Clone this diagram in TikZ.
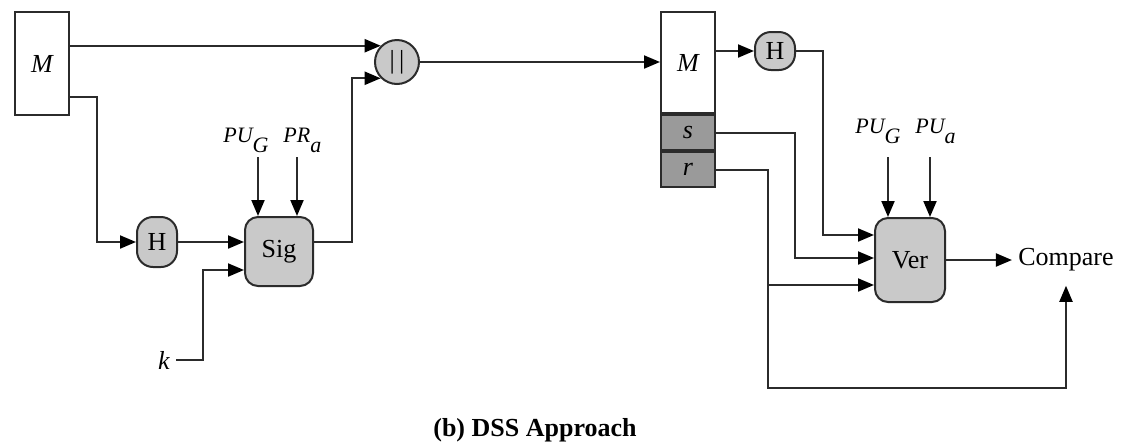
\documentclass[tikz,border=0pt]{standalone}
\usepackage{fontspec}
\setmainfont{Liberation Serif}
\usetikzlibrary{positioning,calc,arrows.meta}
\definecolor{dssline}{HTML}{2B2B2B}
\definecolor{dssfill}{HTML}{C9C9C9}
\definecolor{dsscell}{HTML}{9A9A9A}

\begin{document}
\begin{tikzpicture}[x=0.5pt,y=-0.5pt,
  msgbox/.style={draw=dssline, fill=white, line width=1pt, minimum width=27pt, inner sep=0pt, font=\fontsize{13}{15}\selectfont\itshape},
  cellbox/.style={draw=dssline, fill=dsscell, line width=1pt, minimum width=27pt, minimum height=17.5pt, inner sep=0pt, font=\fontsize{13}{15}\selectfont\itshape},
  opbox/.style={draw=dssline, fill=dssfill, line width=1pt, rounded corners=6.5pt, inner sep=0pt, font=\fontsize{13}{15}\selectfont},
  keylbl/.style={font=\fontsize{11}{13}\selectfont\itshape, inner sep=0pt, anchor=west},
  flow/.style={-{Triangle[length=8pt,width=6.5pt,color=black,fill=black]}, line width=1pt, draw=dssline},
]
\useasboundingbox (0,0) rectangle (1121,446);

% Sender side: M, hash, Sig, concatenation
\node[msgbox, minimum height=51.5pt] (mL) at (42,63.5) {M};
\node[opbox, circle, minimum size=22pt] (cc) at (397,62) {|\,|};
\node[opbox, minimum width=20pt, minimum height=25pt, rounded corners=8pt] (hL) at (157,242) {H};
\node[opbox, minimum width=34pt, minimum height=34.5pt] (sig) at (279,251.5) {Sig};
\node[font=\fontsize{13}{15}\selectfont\itshape, inner sep=3pt] (k) at (164,360) {k};
\node[keylbl] (pugL) at (223,140) {PU\raisebox{-5pt}{G}};
\node[keylbl] (praL) at (283,140) {PR\raisebox{-5pt}{a}};

\draw[flow] (mL.east |- cc.135) -- (cc.135);
\coordinate (mb) at (97,97);
\draw[flow] (mL.east |- mb) -- (mb) |- (hL.west);
\draw[flow] (hL.east) -- (hL.east -| sig.west);
\coordinate (kb) at (203,270);
\draw[flow] (k.east) -| (kb) -- (kb -| sig.west);
\coordinate (sb) at (352,0);
\draw[flow] (sig.east |- hL.east) -| (sb |- cc.225) -- (cc.225);
\foreach \nm/\x in {sgG/258, sgA/297} {
  \coordinate (\nm) at (\x,157);
  \draw[flow] (\nm) -- (\nm |- sig.north);
}

% Receiver side: M | s | r, hash, Ver, Compare
\node[msgbox, minimum height=50.5pt] (mR) at (688,62.5) {M};
\node[cellbox, below=0pt of mR] (sR) {s};
\node[cellbox, below=0pt of sR] (rR) {r};
\node[opbox, minimum width=20pt, minimum height=19pt, rounded corners=8pt] (hR) at (775,51) {H};
\node[opbox, minimum width=35pt, minimum height=42pt] (ver) at (910,260) {Ver};
\node[font=\fontsize{13}{15}\selectfont, inner xsep=3pt, inner ysep=7pt] (cmp) at (1066,260) {Compare};
\node[keylbl] (pugR) at (855,131) {PU\raisebox{-5pt}{G}};
\node[keylbl] (puaR) at (915,131) {PU\raisebox{-5pt}{a}};

\draw[flow] (cc.east) -- (cc.east -| mR.west);
\draw[flow] (mR.east |- hR.west) -- (hR.west);
\coordinate (v1) at (823,235);
\coordinate (v2) at (795,258);
\coordinate (v3) at (768,285);
\coordinate (v4) at (768,388);
\draw[flow] (hR.east) -| (v1) -- (v1 -| ver.west);
\draw[flow] (sR.east) -| (v2) -- (v2 -| ver.west);
\draw[flow] (rR.east) -| (v3) -- (v3 -| ver.west);
\draw[flow] (v3) |- (v4 -| cmp.south) -- (cmp.south);
\draw[flow] (ver.east) -- (cmp.west);
\foreach \nm/\x in {vgG/888, vgA/930} {
  \coordinate (\nm) at (\x,157);
  \draw[flow] (\nm) -- (\nm |- ver.north);
}

% Caption
\node[font=\fontsize{13}{15}\selectfont\bfseries] (cap) at (535,430) {(b) DSS Approach};
\end{tikzpicture}
\end{document}
